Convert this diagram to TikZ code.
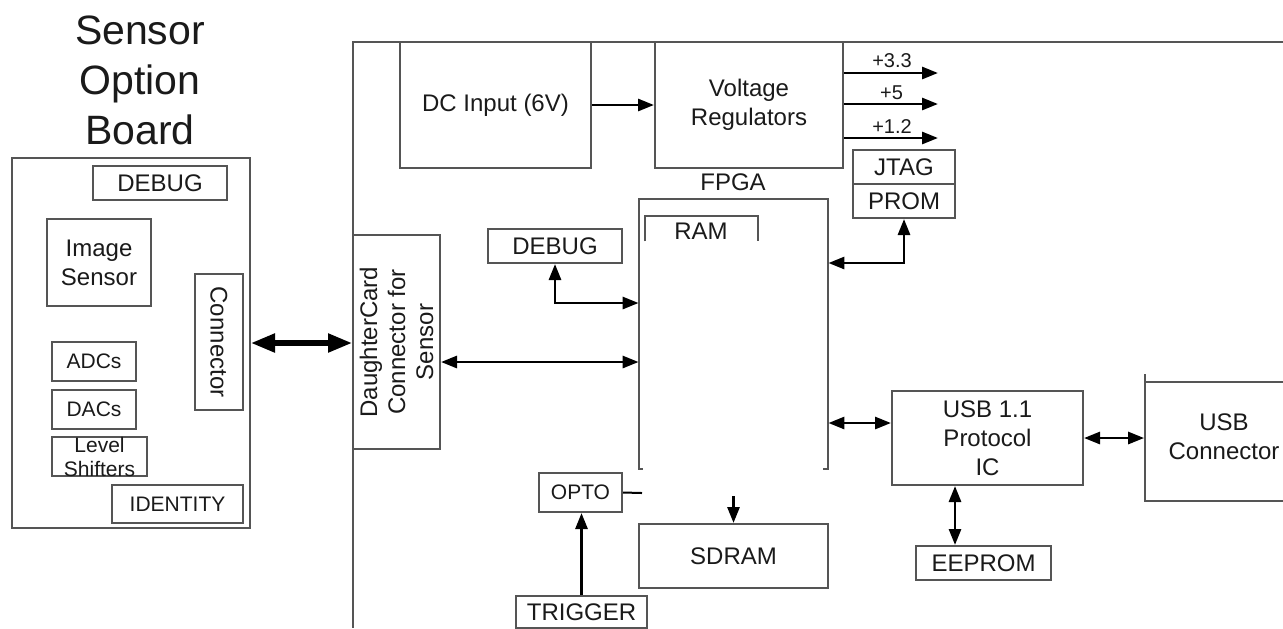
\documentclass[tikz,border=0pt]{standalone}
\usepackage{fontspec}
\setmainfont{Liberation Sans}
\usetikzlibrary{arrows.meta}
\definecolor{boxc}{HTML}{555555}
\definecolor{txtc}{HTML}{1A1A1A}
\begin{document}
\begin{tikzpicture}[x=0.5pt,y=-0.5pt,
  every node/.style={text=txtc},
  bx/.style={draw=boxc, line width=1pt, inner sep=0pt, align=center, font=\fontsize{12}{14.5}\selectfont},
  sbx/.style={bx, font=\fontsize{10.5}{12}\selectfont},
  plain/.style={inner sep=0pt, align=center, font=\fontsize{12}{14.5}\selectfont},
  vlbl/.style={inner sep=0pt, font=\fontsize{10}{12}\selectfont},
  frame/.style={draw=boxc, line width=1pt},
  arr/.style={line width=1.4pt, -{Triangle[length=8pt,width=6pt]}},
  dar/.style={line width=1.4pt, {Triangle[length=8pt,width=6pt]}-{Triangle[length=8pt,width=6pt]}},
  thickdar/.style={line width=2.6pt, {Triangle[length=12pt,width=9pt]}-{Triangle[length=12pt,width=9pt]}}
]
\useasboundingbox (0,0) rectangle (1283,628);
\fill[white] (0,0) rectangle (1283,628);

% ---- Sensor option board ----
\node[plain, font=\fontsize{20.5}{25}\selectfont] (title) at (140,80) {Sensor\\Option\\Board};
\node[bx, minimum width=119pt, minimum height=185pt] (sob) at (131,343) {};
\node[bx, minimum width=67pt, minimum height=17pt] (dbg1) at (160,183) {DEBUG};
\node[bx, minimum width=52pt, minimum height=43.5pt] (isen) at (99,262.5) {Image\\Sensor};
\node[bx, rotate=-90, minimum width=68pt, minimum height=24pt] (conn) at (219,342) {Connector};
\node[sbx, minimum width=42pt, minimum height=19.5pt] (adc) at (94,361.5) {ADCs};
\node[sbx, minimum width=42pt, minimum height=19.5pt] (dac) at (94,409.5) {DACs};
\node[sbx, minimum width=47.5pt, minimum height=19.5pt] (lvl) at (99.5,456.5) {Level\\Shifters};
\node[sbx, minimum width=65.5pt, minimum height=19pt] (ident) at (177.5,504) {IDENTITY};

% ---- Main board frame ----
\draw[frame] (1283,42) -- (353,42) -- (353,628);

\node[bx, rotate=90, minimum width=107pt, minimum height=43.5pt, font=\fontsize{12}{14}\selectfont] (dcc) at (396.5,342) {DaughterCard\\Connector for\\Sensor};

\node[bx, minimum width=95.5pt, minimum height=63pt] (dcin) at (495.5,105) {DC Input (6V)};
\node[bx, minimum width=94pt, minimum height=63pt] (vr) at (749,105) {Voltage\\Regulators};

\coordinate (o1) at (938,73);
\coordinate (o2) at (938,104);
\coordinate (o3) at (938,138);
\node[vlbl] (l1) at (892,61) {+3.3};
\node[vlbl] (l2) at (891.5,93) {+5};
\node[vlbl] (l3) at (892,126.5) {+1.2};

\node[bx, minimum width=51pt, minimum height=17pt] (jtag) at (904,167) {JTAG};
\node[bx, minimum width=51pt, minimum height=17pt] (prom) at (904,201) {PROM};

% FPGA (open box)
\node[inner sep=0pt, minimum width=94.5pt, minimum height=135pt] (fpga) at (733.5,334) {};
\draw[frame] ([xshift=2pt]fpga.south west) -- (fpga.south west) -- (fpga.north west) -- (fpga.north east) -- (fpga.south east) -- ([xshift=-2.5pt]fpga.south east);
\node[plain] (fpgal) at (733,182) {FPGA};
\node[plain, minimum width=56.5pt, minimum height=12.5pt] (ram) at (701.5,228.5) {};
\draw[frame] (ram.south west) -- (ram.north west) -- (ram.north east) -- (ram.south east);
\node[plain] (ramt) at (701,231) {RAM};

\node[bx, minimum width=67pt, minimum height=17pt] (dbg2) at (555,246) {DEBUG};
\node[sbx, minimum width=41.5pt, minimum height=19.5pt] (opto) at (580.5,492.5) {OPTO};
\node[bx, minimum width=65.5pt, minimum height=16pt] (trig) at (581.5,612) {TRIGGER};
\node[bx, minimum width=94.5pt, minimum height=32pt] (sdram) at (733.5,556) {SDRAM};

\node[bx, minimum width=95.5pt, minimum height=47pt] (usb) at (987.5,438) {USB 1.1\\Protocol\\IC};
\node[bx, minimum width=67.5pt, minimum height=17pt] (eep) at (983.5,563) {EEPROM};

% USB connector (cut at right edge)
\node[plain, minimum width=69.5pt, minimum height=59.5pt] (usbc) at (1214,441.5) {};
\draw[frame] (1283,382) -- (1144.5,382);
\draw[frame] (1144.5,374) -- (1144.5,501) -- (1283,501);
\node[plain] (usbct) at (1224,437) {USB\\Connector};

% ---- connectors ----
\draw[thickdar] (sob.east) -- (sob.east -| dcc.north);
\draw[arr] (dcin.east) -- (vr.west);
\draw[arr] (vr.east |- o1) -- (o1);
\draw[arr] (vr.east |- o2) -- (o2);
\draw[arr] (vr.east |- o3) -- (o3);

\coordinate (dj) at (555,303);
\draw[dar] (dbg2.south) -- (dj) -- (dj -| fpga.west);
\coordinate (y362) at (0,362);
\draw[dar] (dcc.south |- y362) -- (fpga.west |- y362);

\coordinate (jj) at (904,263);
\draw[dar] (prom.south) -- (jj) -- (jj -| fpga.east);

\coordinate (y423) at (0,423);
\draw[dar] (fpga.east |- y423) -- (usb.west |- y423);
\draw[dar] (usb.east) -- (usb.east -| usbc.west);
\coordinate (ex) at (955,0);
\draw[dar] (usb.south -| ex) -- (eep.north -| ex);

\coordinate (sdin) at (733.5,496);
\draw[arr] (sdin) -- (sdram.north);
\coordinate (optoend) at (642,493);
\draw[line width=1pt] (opto.east) -- (optoend);
\draw[arr] (trig.north) -- (trig.north |- opto.south);
\end{tikzpicture}
\end{document}
